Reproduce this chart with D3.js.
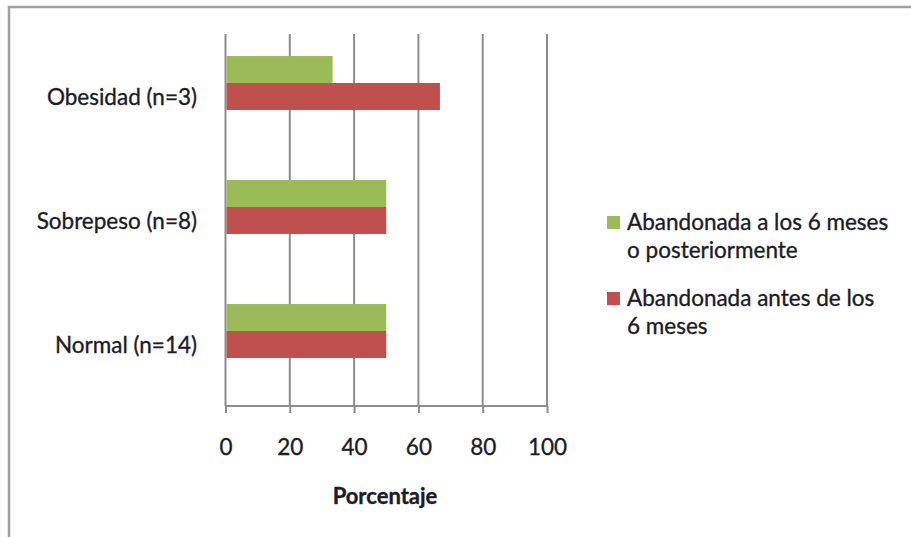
<!DOCTYPE html>
<html>
<head>
<meta charset="utf-8">
<script src="https://cdn.jsdelivr.net/npm/d3@7"></script>
<style>
  html, body { margin: 0; padding: 0; background: #fff; }
  svg { display: block; }
  text { font-family: Lato, "Open Sans", sans-serif; fill: #1c1c26; stroke: #1c1c26; stroke-width: 0.35px; }
</style>
</head>
<body>
<script>
// Categories, top to bottom
const categories = ["Obesidad (n=3)", "Sobrepeso (n=8)", "Normal (n=14)"];
// Series (percent)
const seriesNames = ["Abandonada a los 6 meses o posteriormente", "Abandonada antes de los 6 meses"];
const legendLines = [["Abandonada a los 6 meses", "o posteriormente"], ["Abandonada antes de los", "6 meses"]];
const despues = [33.3, 50, 50];
const antes = [66.7, 50, 50];
const xTicks = [0, 20, 40, 60, 80, 100];
const xTitle = "Porcentaje";
const colors = ["#9BBB59", "#C0504D"];

const W = 911, H = 537;
const FS = 22.5;
const svg = d3.select("body").append("svg").attr("width", W).attr("height", H);

// chart frame
svg.append("path")
  .attr("d", `M9,${H + 5} V7 H${W + 5}`)
  .attr("fill", "none").attr("stroke", "#a0a0a0").attr("stroke-width", 2.5);

const x = d3.scaleLinear().domain([0, 100]).range([225.5, 547]);
const plotTop = 34, plotBottom = 406;
const y = d3.scaleBand().domain(categories).range([21, 393]).paddingInner(0.565).paddingOuter(0.2825);
const sub = d3.scaleBand().domain([0, 1]).range([0, y.bandwidth()]);

// vertical gridlines
svg.append("g").selectAll("line").data(xTicks).join("line")
  .attr("x1", d => x(d)).attr("x2", d => x(d))
  .attr("y1", plotTop).attr("y2", plotBottom)
  .attr("stroke", "#8c8c8c").attr("stroke-width", 2);

// bottom axis
const xAxis = d3.axisBottom(x).tickValues(xTicks).tickSize(7).tickPadding(26);
const gx = svg.append("g").attr("transform", `translate(0,${plotBottom})`).call(xAxis);
gx.select(".domain").attr("stroke", "#8c8c8c").attr("stroke-width", 2).attr("d", `M${x(0)},0H${x(100)}`);
gx.selectAll(".tick line").attr("stroke", "#8c8c8c").attr("stroke-width", 2);
gx.selectAll(".tick text").attr("font-size", FS).attr("font-family", "Lato, sans-serif")
  .attr("fill", "#1c1c26").attr("stroke", "#1c1c26").attr("stroke-width", 0.35);

// bars
const rows = categories.map((c, i) => ({ c, vals: [despues[i], antes[i]] }));
const rowG = svg.append("g").selectAll("g").data(rows).join("g")
  .attr("transform", d => `translate(0,${y(d.c)})`);
rowG.selectAll("rect").data(d => d.vals.map((v, k) => ({ v, k }))).join("rect")
  .attr("x", x(0) + 1)
  .attr("y", d => sub(d.k))
  .attr("width", d => x(d.v) - x(0) - 1)
  .attr("height", sub.bandwidth())
  .attr("fill", d => colors[d.k]);

// category labels
svg.append("g").selectAll("text").data(categories).join("text")
  .attr("x", 197)
  .attr("y", d => y(d) + y.bandwidth() / 2 + 22)
  .attr("text-anchor", "end")
  .attr("font-size", FS)
  .text(d => d);

// axis title
svg.append("text")
  .attr("x", 385).attr("y", 504)
  .attr("text-anchor", "middle")
  .attr("font-size", 22).attr("font-weight", "bold")
  .text(xTitle);

// legend
const leg = svg.append("g").selectAll("g").data(seriesNames).join("g")
  .attr("transform", (d, i) => `translate(607,${212 + i * 76})`);
leg.append("rect").attr("y", 4).attr("width", 13).attr("height", 13).attr("fill", (d, i) => colors[i]);
leg.append("text")
  .attr("x", 20).attr("y", 18)
  .attr("font-size", FS)
  .selectAll("tspan").data((d, i) => legendLines[i]).join("tspan")
  .attr("x", 20).attr("dy", (d, j) => j === 0 ? 0 : 28)
  .text(d => d);
</script>
</body>
</html>
